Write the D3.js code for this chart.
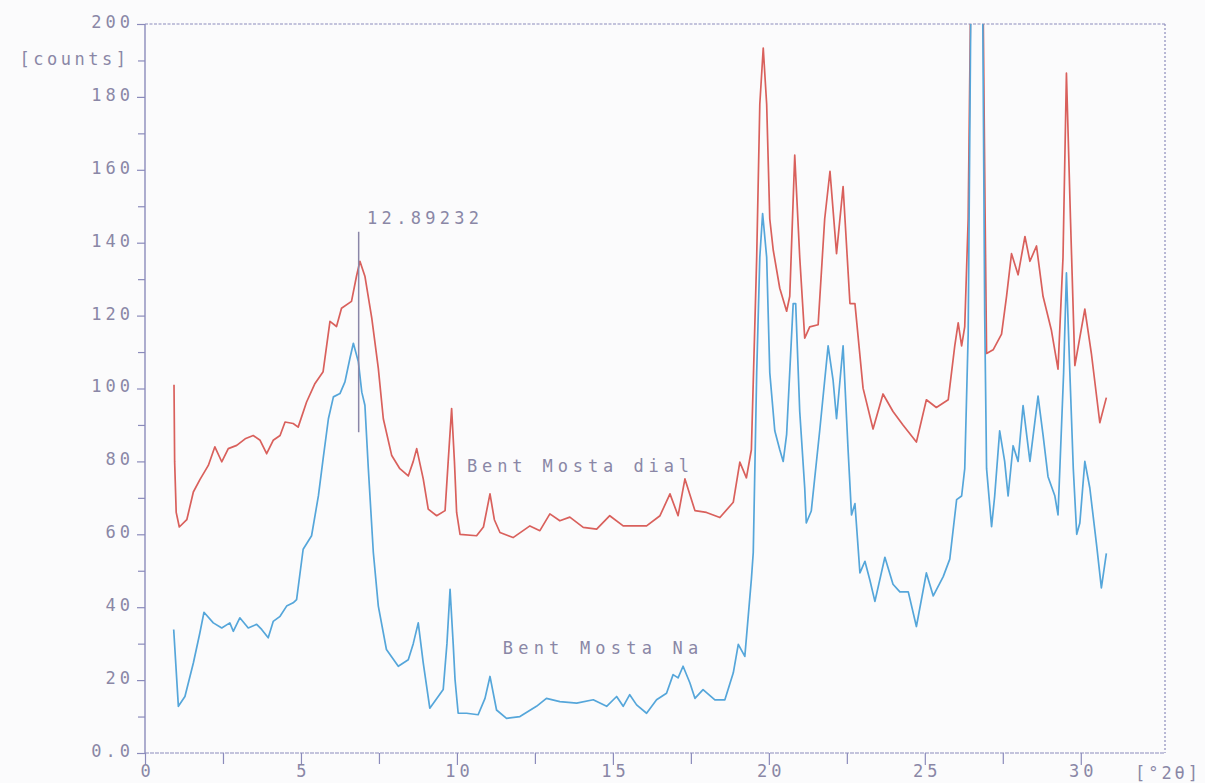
<!DOCTYPE html>
<html>
<head>
<meta charset="utf-8">
<script src="https://cdn.jsdelivr.net/npm/d3@7"></script>
<style>
  body { margin: 0; background: #fbfbfc; }
  svg text { font-family: "DejaVu Sans Mono", "Liberation Mono", monospace; fill: #8a87a6; }
</style>
</head>
<body>
<script>
      // data (angle in deg 2theta, intensity in counts)
      var redAngles = [0.93,0.95,1.0,1.10,1.34,1.55,1.76,2.03,2.24,2.46,2.67,2.94,3.21,3.47,3.69,3.90,4.11,4.33,4.49,4.75,4.91,5.18,5.45,5.71,5.93,6.14,6.30,6.62,6.78,6.89,7.05,7.27,7.48,7.64,7.91,8.17,8.44,8.6,8.71,8.92,9.08,9.35,9.62,9.72,9.83,9.92,9.99,10.10,10.63,10.85,11.06,11.2,11.38,11.80,12.34,12.66,12.98,13.30,13.62,14.05,14.48,14.90,15.33,16.08,16.51,16.83,17.09,17.31,17.63,18.00,18.43,18.86,19.07,19.28,19.44,19.61,19.71,19.82,19.93,20.03,20.14,20.35,20.57,20.67,20.83,20.99,21.15,21.31,21.58,21.79,21.96,22.17,22.38,22.6,22.76,23.02,23.34,23.66,23.98,24.30,24.73,25.05,25.37,25.75,25.96,26.07,26.18,26.28,26.39,26.5,26.65,26.8,26.87,26.93,26.98,27.19,27.46,27.62,27.78,27.99,28.21,28.37,28.58,28.79,29.06,29.27,29.43,29.54,29.67,29.81,30.13,30.34,30.61,30.82];
      var redCounts = [101,80,66,62,64,71.6,75,78.9,84,79.9,83.5,84.4,86.2,87.1,85.8,82.1,85.8,87.1,90.8,90.4,89.4,96.3,101.4,104.6,118.4,117,122,123.9,130.8,134.9,130.8,119.3,105.5,91.7,81.6,78,76,80,83.5,75.2,66.9,65.1,66.5,80,94.5,80,66,60,59.6,62,71.1,64,60.5,59.1,62.3,61,65.6,63.7,64.7,61.9,61.4,65.1,62.3,62.3,65.1,71.1,65.1,75.2,66.5,66,64.6,68.8,79.8,75.5,83.2,135.9,178,193.4,178,146.5,138,127.5,121.2,125.3,164,136,113.8,116.9,117.5,146.5,159.6,137,155.4,123.3,123.3,100.1,88.9,98.5,93.7,90,85.3,96.9,94.8,96.9,111.7,118,111.7,117,146.5,230,265,250,205,150,109.6,110.6,114.9,125.3,137,131.2,141.7,134.9,139.1,125.3,115.9,105.3,135.9,186.5,146.5,106.3,121.8,109.6,90.6,97.5];

      var blueAngles = [0.92,1.07,1.28,1.55,1.76,1.89,2.19,2.46,2.72,2.83,3.04,3.31,3.58,3.74,3.95,4.11,4.33,4.54,4.75,4.86,5.07,5.34,5.56,5.71,5.88,6.04,6.25,6.41,6.57,6.68,6.84,6.95,7.05,7.16,7.32,7.48,7.74,8.12,8.44,8.6,8.76,8.92,9.13,9.40,9.56,9.68,9.78,9.88,9.94,10.04,10.31,10.68,10.9,11.06,11.27,11.59,12.02,12.55,12.87,13.30,13.84,14.37,14.80,15.12,15.33,15.54,15.76,16.08,16.40,16.72,16.93,17.09,17.25,17.47,17.63,17.89,18.27,18.59,18.86,19.02,19.23,19.44,19.50,19.61,19.71,19.80,19.93,20.03,20.19,20.35,20.46,20.57,20.78,20.86,20.99,21.15,21.20,21.36,21.63,21.9,22.06,22.17,22.28,22.38,22.54,22.65,22.76,22.92,23.08,23.24,23.40,23.72,23.98,24.20,24.47,24.73,25.05,25.27,25.59,25.80,26.02,26.18,26.28,26.39,26.48,26.62,26.78,26.86,26.92,26.98,27.14,27.24,27.40,27.56,27.67,27.83,27.99,28.15,28.37,28.63,28.79,28.95,29.17,29.27,29.45,29.54,29.65,29.76,29.87,29.97,30.13,30.29,30.51,30.66,30.82];
      var blueCounts = [33.9,12.8,15.5,24.7,33,38.6,35.7,34.3,35.7,33.4,37.1,34.3,35.3,33.9,31.6,36.1,37.5,40.3,41.2,42.1,55.9,59.6,70.6,80.7,91.7,97.7,98.6,101.8,108.3,112.4,107.3,99,95.4,78,55,40.3,28.4,23.8,25.6,30,35.7,24.7,12.3,15.5,17.4,30,44.9,30,20.1,10.9,10.9,10.5,15,21,11.8,9.5,10,12.8,15,14.1,13.7,14.6,12.8,15.5,12.8,16,13.2,10.9,14.6,16.4,21.5,20.6,23.8,19.2,15,17.4,14.6,14.6,22,29.8,26.5,47.7,55,104.3,136,148,136,104.3,88.4,83.2,80,87.4,123.3,123.3,93.7,72.7,63.1,66.4,88.4,111.7,102.2,91.7,102.2,111.7,83.2,65.3,68.4,49.4,52.6,47.4,41.6,53.7,46.3,44.2,44.2,34.7,49.4,43.1,48.4,53.2,69.5,70.5,78,114.9,210,250,240,200,120,78,62.1,70.5,88.4,80,70.5,84.3,80,95.3,80,97.9,87.3,75.8,70.5,65.3,104.3,131.7,104.3,78,60,63.1,80,72.7,56.8,45.3,54.8];

      var xTicks = [0,5,10,15,20,25,30];
      var xMinorTicks = [2.5,7.5,12.5,17.5,22.5,27.5];
      var yTicks = [0,20,40,60,80,100,120,140,160,180,200];
      var yTickLabels = ["0.0","20","40","60","80","100","120","140","160","180","200"];
      var yMinorTicks = [10,30,50,70,90,110,130,150,170,190];

      var seriesNames = ["Bent Mosta dial","Bent Mosta Na"];
      var markerLabel = "12.89232";
      var markerAngle = 6.85;
      var markerRange = [88,143];

      //tamaños
      var W = 1205, H = 783;
      var margin = { top: 24, right: 40, bottom: 30, left: 145 };
      var fontSize = "17px";

      var svg = d3.select("body").append("svg")
          .attr("width", W)
          .attr("height", H);

      var xScale = d3.scaleLinear()
          .domain([0, 32.7])
          .range([margin.left, W - margin.right]);

      var yScale = d3.scaleLinear()
          .domain([0, 200])
          .range([H - margin.bottom, margin.top]);

      var axisColor = "#8b8bbb";

      //marco superior y derecho (punteado)
      svg.append("line")
          .attr("x1", xScale(0)).attr("x2", xScale(32.7))
          .attr("y1", yScale(200)).attr("y2", yScale(200))
          .attr("stroke", axisColor).attr("stroke-width", 1.2)
          .attr("stroke-dasharray", "3,1.5");
      svg.append("line")
          .attr("x1", xScale(32.7)).attr("x2", xScale(32.7))
          .attr("y1", yScale(200)).attr("y2", yScale(0))
          .attr("stroke", axisColor).attr("stroke-width", 1.2)
          .attr("stroke-dasharray", "2,2");

      //ejes
      var yAxis = d3.axisLeft(yScale)
          .tickValues(yTicks)
          .tickFormat(function(d, i) { return yTickLabels[i]; })
          .tickSize(8)
          .tickPadding(7);
      var yMinor = d3.axisLeft(yScale).tickValues(yMinorTicks).tickSize(7).tickFormat("");
      var xAxis = d3.axisBottom(xScale)
          .tickValues(xTicks)
          .tickFormat(function(d) { return d; })
          .tickSize(12)
          .tickPadding(0);
      var xMinor = d3.axisBottom(xScale).tickValues(xMinorTicks).tickSize(11).tickFormat("");

      function styleAxis(g) {
        g.select(".domain").remove();
        g.selectAll("line").attr("stroke", axisColor).attr("stroke-width", 1.2);
        g.selectAll("text")
          .attr("font-size", fontSize)
          .attr("letter-spacing", "4px")
          .attr("fill", "#8a87a6");
      }

      svg.append("g").attr("transform", "translate(" + [margin.left, 0] + ")").call(yAxis).call(styleAxis)
          .selectAll("text").attr("dy", "0.2em").attr("dx", "4px");
      svg.append("g").attr("transform", "translate(" + [margin.left, 0] + ")").call(yMinor).call(styleAxis);
      svg.append("g").attr("transform", "translate(" + [0, H - margin.bottom] + ")").call(xAxis).call(styleAxis)
          .selectAll("text").attr("dx", "2px");
      svg.append("g").attr("transform", "translate(" + [0, H - margin.bottom] + ")").call(xMinor).call(styleAxis);

      //lineas de los ejes
      svg.append("line")
          .attr("x1", xScale(0)).attr("x2", xScale(0))
          .attr("y1", yScale(0)).attr("y2", yScale(200))
          .attr("stroke", axisColor).attr("stroke-width", 1.4);
      svg.append("line")
          .attr("x1", xScale(0)).attr("x2", xScale(32.7))
          .attr("y1", yScale(0)).attr("y2", yScale(0))
          .attr("stroke", axisColor).attr("stroke-width", 1.2)
          .attr("stroke-dasharray", "4,1");

      //unidades
      svg.append("text")
          .attr("x", margin.left - 19)
          .attr("y", yScale(190) + 5)
          .attr("text-anchor", "end")
          .attr("font-size", fontSize)
          .attr("letter-spacing", "3.5px")
          .attr("dx", "3.5px")
          .text("[counts]");
      svg.append("text")
          .attr("x", W - 37)
          .attr("y", H - 4)
          .attr("text-anchor", "middle")
          .attr("font-size", fontSize)
          .attr("letter-spacing", "3px")
          .text("[°2θ]");

      //recorte del area
      svg.append("clipPath").attr("id", "plot")
        .append("rect")
          .attr("x", xScale(0)).attr("y", yScale(200))
          .attr("width", xScale(32.7) - xScale(0))
          .attr("height", yScale(0) - yScale(200));

      var line = d3.line()
          .x(function(d) { return xScale(d[0]); })
          .y(function(d) { return yScale(d[1]); });

      var redData = d3.zip(redAngles, redCounts);
      var blueData = d3.zip(blueAngles, blueCounts);

      svg.append("path")
          .datum(redData)
          .attr("clip-path", "url(#plot)")
          .attr("fill", "none")
          .attr("stroke", "#d9605c")
          .attr("stroke-width", 1.7)
          .attr("stroke-linejoin", "round")
          .attr("d", line);

      svg.append("path")
          .datum(blueData)
          .attr("clip-path", "url(#plot)")
          .attr("fill", "none")
          .attr("stroke", "#55a6da")
          .attr("stroke-width", 1.7)
          .attr("stroke-linejoin", "round")
          .attr("d", line);

      //marcador del pico
      svg.append("line")
          .attr("x1", xScale(markerAngle)).attr("x2", xScale(markerAngle))
          .attr("y1", yScale(markerRange[0])).attr("y2", yScale(markerRange[1]))
          .attr("stroke", "#8a86a8")
          .attr("stroke-width", 1.5);
      svg.append("text")
          .attr("x", xScale(7.12))
          .attr("y", yScale(145))
          .attr("font-size", fontSize)
          .attr("letter-spacing", "4.3px")
          .text(markerLabel);

      //nombres de las series
      svg.append("text")
          .attr("x", xScale(10.32))
          .attr("y", yScale(77.2))
          .attr("font-size", fontSize)
          .attr("letter-spacing", "4.9px")
          .text(seriesNames[0]);
      svg.append("text")
          .attr("x", xScale(11.47))
          .attr("y", yScale(27.2))
          .attr("font-size", fontSize)
          .attr("letter-spacing", "5.2px")
          .text(seriesNames[1]);
</script>
</body>
</html>
